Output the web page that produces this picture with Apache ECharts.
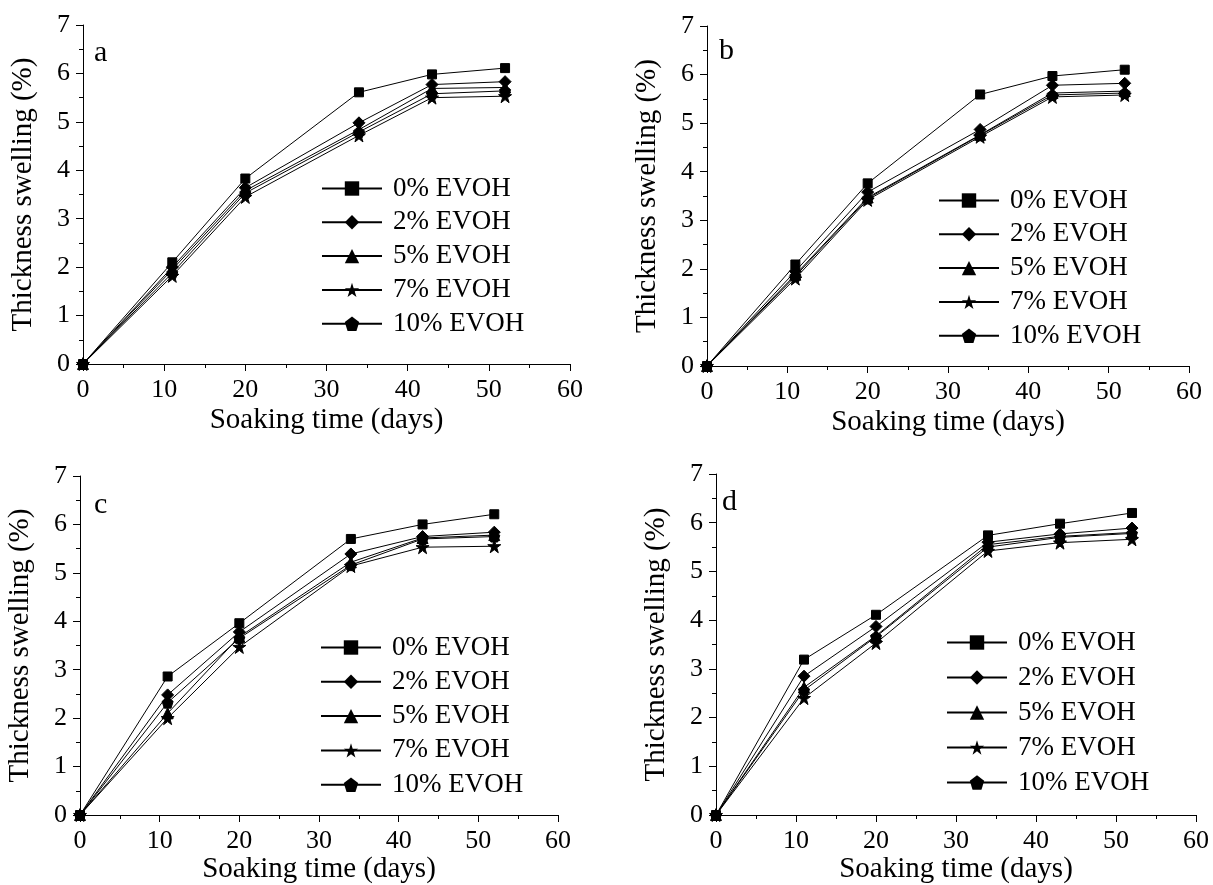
<!DOCTYPE html>
<html>
<head>
<meta charset="utf-8">
<script src="https://cdn.jsdelivr.net/npm/echarts@6/dist/echarts.min.js"></script>
<style>
html,body{margin:0;padding:0;background:#fff;}
#chart{width:1213px;height:885px;}
</style>
</head>
<body>
<div id="chart"></div>
<script>
// ---- data ----
const days = [0, 11, 20, 34, 43, 52];
const seriesNames = ['0% EVOH', '2% EVOH', '5% EVOH', '7% EVOH', '10% EVOH'];
const panelLetters = ['a', 'b', 'c', 'd'];
const xTicks = [0, 10, 20, 30, 40, 50, 60];
const yTicks = [0, 1, 2, 3, 4, 5, 6, 7];

// thickness swelling (%) per panel, one row per EVOH content
const panelA = [
  [0, 2.10, 3.83, 5.61, 5.98, 6.11],
  [0, 2.00, 3.64, 4.98, 5.77, 5.83],
  [0, 1.95, 3.58, 4.84, 5.69, 5.71],
  [0, 1.82, 3.45, 4.72, 5.50, 5.53],
  [0, 1.88, 3.53, 4.79, 5.58, 5.64]
];
const panelB = [
  [0, 2.09, 3.76, 5.59, 5.97, 6.10],
  [0, 1.95, 3.58, 4.87, 5.78, 5.82],
  [0, 1.88, 3.47, 4.76, 5.62, 5.66],
  [0, 1.80, 3.42, 4.72, 5.54, 5.58],
  [0, 1.85, 3.45, 4.75, 5.58, 5.62]
];
const panelC = [
  [0, 2.86, 3.96, 5.70, 6.00, 6.21],
  [0, 2.48, 3.78, 5.39, 5.75, 5.84],
  [0, 2.10, 3.68, 5.22, 5.72, 5.78],
  [0, 2.00, 3.47, 5.14, 5.53, 5.55],
  [0, 2.32, 3.65, 5.16, 5.70, 5.75]
];
const panelD = [
  [0, 3.19, 4.11, 5.74, 5.98, 6.20],
  [0, 2.85, 3.87, 5.60, 5.77, 5.89],
  [0, 2.62, 3.68, 5.55, 5.72, 5.80],
  [0, 2.40, 3.53, 5.42, 5.59, 5.66],
  [0, 2.56, 3.66, 5.50, 5.70, 5.78]
];
const panels = [panelA, panelB, panelC, panelD];

// ---- styling / layout ----
const FONT = "'Liberation Serif', 'Times New Roman', serif";
const STAR = 'path://M50,0 L61.2,34.5 L97.6,34.5 L68.2,55.9 L79.4,90.5 L50,69.1 L20.6,90.5 L31.8,55.9 L2.4,34.5 L38.8,34.5 Z';
const PENT = 'path://M50,0 L100,36.3 L80.9,95.1 L19.1,95.1 L0,36.3 Z';
const symbols = ['rect', 'diamond', 'triangle', STAR, PENT];
const symbolSizes = [9, 12, 11, 13, 11];

const grids = [
  {left: 83, top: 25, width: 487, height: 339},
  {left: 707, top: 26, width: 482, height: 340},
  {left: 80, top: 476, width: 478, height: 341},
  {left: 716, top: 474, width: 480, height: 341}
];
const legendPos = [
  {left: 321, top: 175, gap: 6.8},
  {left: 938, top: 187, gap: 6.8},
  {left: 320, top: 634, gap: 7.3},
  {left: 946, top: 629, gap: 8}
];
const letterPos = [
  {x: 94, y: 60}, {x: 719, y: 58}, {x: 94, y: 512}, {x: 722, y: 509}
];

const axisLineStyle = {color: '#000', width: 1};

const option = {
  backgroundColor: '#fff',
  animation: false,
  grid: grids.map(g => Object.assign({containLabel: false}, g)),
  xAxis: grids.map((g, i) => ({
    gridIndex: i, type: 'value',
    min: xTicks[0], max: xTicks[xTicks.length - 1], interval: 10,
    name: 'Soaking time (days)', nameLocation: 'middle', nameGap: i < 2 ? 42 : 40,
    nameTextStyle: {fontFamily: FONT, fontSize: 29, color: '#000'},
    axisLine: {show: true, onZero: false, lineStyle: axisLineStyle},
    axisTick: {show: true, length: 7, lineStyle: axisLineStyle},
    minorTick: {show: true, splitNumber: 2, length: 4, lineStyle: axisLineStyle},
    axisLabel: {fontFamily: FONT, fontSize: 26, color: '#000', margin: 13},
    splitLine: {show: false}
  })),
  yAxis: grids.map((g, i) => ({
    gridIndex: i, type: 'value',
    min: yTicks[0], max: yTicks[yTicks.length - 1], interval: 1,
    name: 'Thickness swelling (%)', nameLocation: 'middle', nameGap: 45,
    nameTextStyle: {fontFamily: FONT, fontSize: 29, color: '#000'},
    axisLine: {show: true, onZero: false, lineStyle: axisLineStyle},
    axisTick: {show: true, length: 7, lineStyle: axisLineStyle},
    minorTick: {show: true, splitNumber: 2, length: 4, lineStyle: axisLineStyle},
    axisLabel: {fontFamily: FONT, fontSize: 26, color: '#000', margin: 13},
    splitLine: {show: false}
  })),
  legend: legendPos.map(p => ({
    orient: 'vertical', left: p.left, top: p.top, padding: 0,
    itemWidth: 60, itemHeight: 18, itemGap: p.gap,
    data: seriesNames,
    selectedMode: false,
    textStyle: {fontFamily: FONT, fontSize: 27, lineHeight: 26, color: '#000', padding: [0, 0, 0, 6]}
  })),
  graphic: panelLetters.map((t, i) => ({
    type: 'text', left: letterPos[i].x, top: letterPos[i].y - 22,
    style: {text: t, font: '30px ' + FONT, fill: '#000'}
  })),
  series: []
};

panels.forEach((panel, pi) => {
  panel.forEach((vals, si) => {
    option.series.push({
      type: 'line', name: seriesNames[si],
      xAxisIndex: pi, yAxisIndex: pi,
      data: days.map((d, k) => [d, vals[k]]),
      symbol: symbols[si], symbolSize: symbolSizes[si],
      showAllSymbol: true,
      lineStyle: {color: '#000', width: 1},
      itemStyle: {color: '#000', borderColor: '#000'},
      emphasis: {disabled: true}
    });
  });
});

const chart = echarts.init(document.getElementById('chart'), null, {renderer: 'canvas'});
chart.setOption(option);
</script>
</body>
</html>
